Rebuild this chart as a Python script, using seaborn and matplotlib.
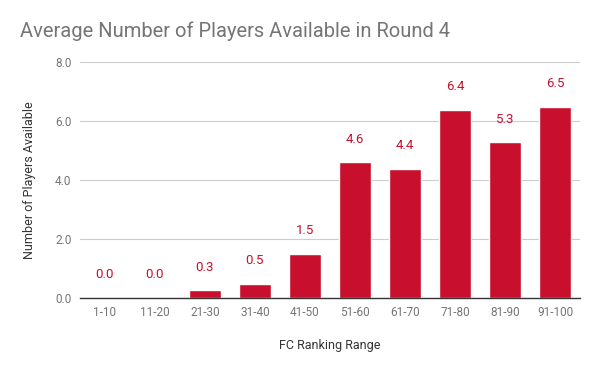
import matplotlib
matplotlib.use("Agg")
from matplotlib import pyplot as plt
import seaborn as sns
import pandas as pd

ranges = ["1-10", "11-20", "21-30", "31-40", "41-50", "51-60", "61-70", "71-80", "81-90", "91-100"]
avg_players = [0.0, 0.0, 0.26, 0.48, 1.5, 4.6, 4.38, 6.38, 5.27, 6.48]

df = pd.DataFrame({"range": ranges, "players": avg_players})

sns.set_theme(style="whitegrid")
plt.rcParams["font.family"] = ["Roboto", "DejaVu Sans"]

bar_color = "#c8102e"
grey = "#757575"

fig = plt.figure(figsize=(6, 3.71), dpi=100)
ax = fig.add_axes([0.133, 0.197, 0.834, 0.636])
sns.barplot(data=df, x="range", y="players", color=bar_color, width=0.64,
            saturation=1, ax=ax)

for i, v in enumerate(avg_players):
    ax.annotate(f"{v:.1f}", (i, v), xytext=(0, 12), textcoords="offset points",
                ha="center", va="bottom", color=bar_color, fontsize=9.5)

ax.set_ylim(0, 8)
ax.set_yticks([0, 2, 4, 6, 8])
ax.set_yticklabels([f"{t:.1f}" for t in [0, 2, 4, 6, 8]])
ax.tick_params(axis="both", colors=grey, labelsize=8.5, length=0, pad=6)
ax.grid(axis="y", color="#cccccc", linewidth=0.8)
ax.grid(axis="x", visible=False)
for s in ["top", "right", "left"]:
    ax.spines[s].set_visible(False)
ax.spines["bottom"].set_color("#333333")
ax.spines["bottom"].set_linewidth(1)

ax.set_xlabel("FC Ranking Range", fontsize=9, color="#333333", labelpad=14)
ax.set_ylabel("Number of Players Available", fontsize=9, color="#333333", labelpad=14)
fig.text(0.033, 0.915, "Average Number of Players Available in Round 4",
         fontsize=14.5, color=grey, ha="left", va="center")

fig.savefig("out.png", dpi=100)
